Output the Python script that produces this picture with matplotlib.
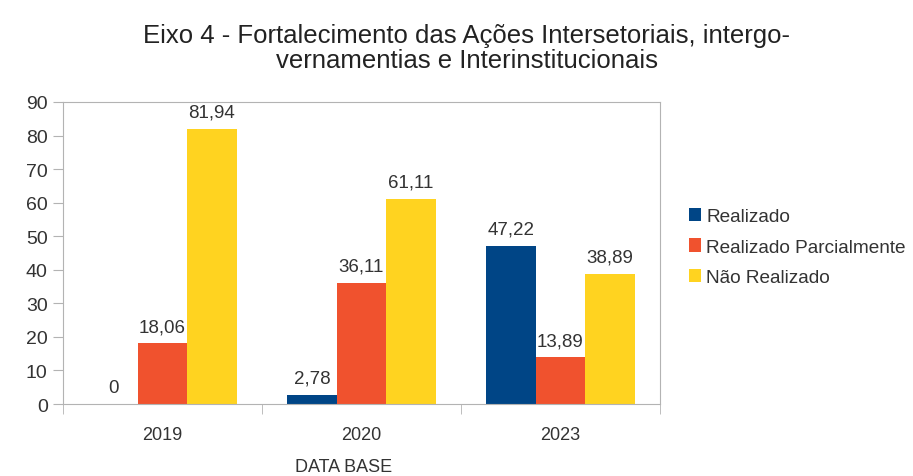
import numpy as np
import matplotlib.pyplot as plt

plt.rcParams['font.family'] = ['Liberation Sans', 'DejaVu Sans']

# dados
anos = ['2019', '2020', '2023']
realizado = [0, 2.78, 47.22]
parcial = [18.06, 36.11, 13.89]
nao_realizado = [81.94, 61.11, 38.89]
series = ['Realizado', 'Realizado Parcialmente', 'Não Realizado']
cores = ['#004586', '#f0522e', '#ffd320']

fig = plt.figure(figsize=(9.13, 4.77), dpi=100)
ax = fig.add_axes([63/913, 1-405/477, 597/913, 302/477])

x = np.arange(len(anos))
w = 0.248
for k, (vals, nome, cor) in enumerate(zip([realizado, parcial, nao_realizado], series, cores)):
    barras = ax.bar(x + (k-1)*w, vals, w, color=cor, label=nome)
    rotulos = [('%.2f' % v).replace('.', ',') if v != 0 else '0' for v in vals]
    ax.bar_label(barras, labels=rotulos, padding=6, fontsize=13.5, color='#333333')

ax.set_xlim(-0.5, 2.5)
ax.set_ylim(0, 90)
ax.set_yticks(range(0, 91, 10))
ax.set_xticks(x)
ax.set_xticklabels(anos)
ax.set_xticks([-0.5, 0.5, 1.5, 2.5], minor=True)
ax.tick_params(axis='x', which='major', length=0, pad=16, labelsize=13, labelcolor='#333333')
ax.tick_params(axis='x', which='minor', length=7, color='#b3b3b3')
ax.tick_params(axis='y', length=7, color='#b3b3b3', labelsize=14, labelcolor='#333333', pad=4)
for s in ax.spines.values():
    s.set_color('#b3b3b3')

fig.text(0.511, 0.898, 'Eixo 4 - Fortalecimento das Ações Intersetoriais, intergo-\nvernamentias e Interinstitucionais',
         ha='center', va='center', fontsize=18.5, color='#222222', linespacing=1.02)
fig.text(344/913, 1-468/477, 'DATA BASE', ha='center', va='center', fontsize=13, color='#333333')

fig.legend(loc='center left', bbox_to_anchor=(672/913, 1-248/477), frameon=False,
           fontsize=13.7, handlelength=0.6, handleheight=0.7, handletextpad=0.3,
           labelspacing=0.68, labelcolor='#333333')

plt.savefig('out.png')
